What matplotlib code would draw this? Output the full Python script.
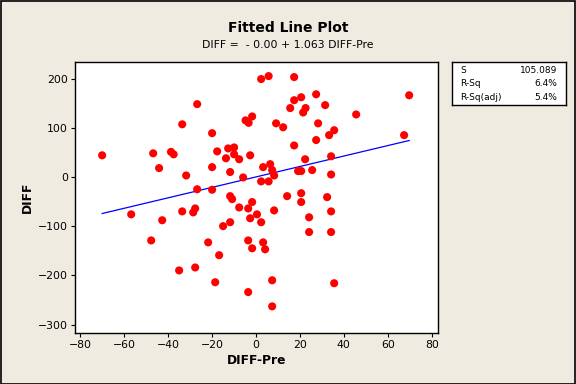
import numpy as np
import matplotlib.pyplot as plt
from matplotlib.patches import Rectangle

# valeurs
diff_pre = [-69.9, -56.7, -47.6, -46.7, -44.0, -42.6, -38.6, -37.4, -34.9, -33.5,
            -33.5, -31.7, -28.5, -27.6, -27.6, -26.7, -26.7, -21.7, -19.9, -19.9,
            -19.9, -18.5, -17.6, -16.7, -14.9, -13.6, -12.6, -11.7, -11.7, -11.7,
            -10.8, -9.9, -9.9, -7.6, -7.6, -5.8, -4.7, -3.5, -3.5, -3.5,
            -3.3, -2.6, -2.6, -1.7, -1.7, -1.7, 0.5, 2.4, 2.4, 2.4,
            3.3, 3.3, 4.2, 5.8, 5.8, 6.5, 7.4, 7.4, 7.4, 8.3,
            8.3, 9.2, 12.4, 14.2, 15.6, 17.4, 17.4, 17.4, 19.2, 20.6,
            20.6, 20.6, 20.6, 21.5, 22.4, 22.6, 24.2, 24.2, 25.6, 27.4,
            27.4, 28.3, 31.5, 32.4, 33.3, 34.2, 34.2, 34.2, 34.2, 35.6,
            35.6, 45.6, 67.4, 69.7]
diff = [44, -76, -129, 48, 18, -88, 51, 46, -190, 107,
        -70, 3, -72, -64, -184, 148, -25, -133, 89, 20,
        -26, -214, 52, -159, -100, 38, 58, 10, -39, -92,
        -45, 60, 46, 36, -62, -1, 115, -64, -129, -234,
        110, 44, -84, 123, -51, -145, -76, 199, -9, -92,
        20, -133, -147, 205, -9, 26, 14, -210, -263, 3,
        -68, 109, 101, -39, 140, 203, 156, 64, 12, 162,
        12, -33, -51, 131, 36, 140, -82, -112, 14, 168,
        75, 109, 146, -41, 85, 42, 5, -70, -112, 95,
        -216, 127, 85, 166]

intercept = 0.0
slope = 1.063
stat_labels = ['S', 'R-Sq', 'R-Sq(adj)']
stat_values = ['105.089', '6.4%', '5.4%']

bg = '#EFEBE1'
fig = plt.figure(figsize=(5.76, 3.84), dpi=100, facecolor=bg)
fig.patches.append(Rectangle((0.001, 0.001), 0.997, 0.997, transform=fig.transFigure,
                             fill=False, edgecolor='black', linewidth=1.2))

ax = fig.add_axes([0.130, 0.133, 0.630, 0.706])
ax.set_facecolor('white')

x = np.array(diff_pre)
y = np.array(diff)
ax.scatter(x, y, s=34, color='#FF0000', edgecolors='none', zorder=3)

xl = np.array([x.min(), x.max()])
ax.plot(xl, intercept + slope * xl, color='#0000FF', linewidth=0.9, zorder=2)

ax.set_xlim(-82.3, 82.7)
ax.set_ylim(-317, 234)
ax.set_xticks([-80, -60, -40, -20, 0, 20, 40, 60, 80])
ax.set_yticks([200, 100, 0, -100, -200, -300])
ax.tick_params(direction='out', length=3, width=0.8, labelsize=7.8, pad=2)
for s in ax.spines.values():
    s.set_linewidth(1.0)

ax.set_xlabel('DIFF-Pre', fontsize=8.8, fontweight='bold', labelpad=3)
ax.set_ylabel('DIFF', fontsize=8.8, fontweight='bold', labelpad=3)

fig.text(0.5, 0.927, 'Fitted Line Plot', ha='center', va='center',
         fontsize=10, fontweight='bold')
fig.text(0.5, 0.883, 'DIFF =  - 0.00 + 1.063 DIFF-Pre', ha='center', va='center',
         fontsize=7.8)

# boite des statistiques
box = fig.add_axes([452 / 576, 1 - 105 / 384, 114 / 576, 43 / 384])
box.set_facecolor('white')
box.set_xticks([])
box.set_yticks([])
for s in box.spines.values():
    s.set_linewidth(1.0)
for i, (lab, val) in enumerate(zip(stat_labels, stat_values)):
    yy = 0.80 - i * 0.31
    box.text(0.07, yy, lab, fontsize=6.5, va='center', ha='left', transform=box.transAxes)
    box.text(0.92, yy, val, fontsize=6.5, va='center', ha='right', transform=box.transAxes)

fig.savefig('out.png', dpi=100, facecolor=bg)
